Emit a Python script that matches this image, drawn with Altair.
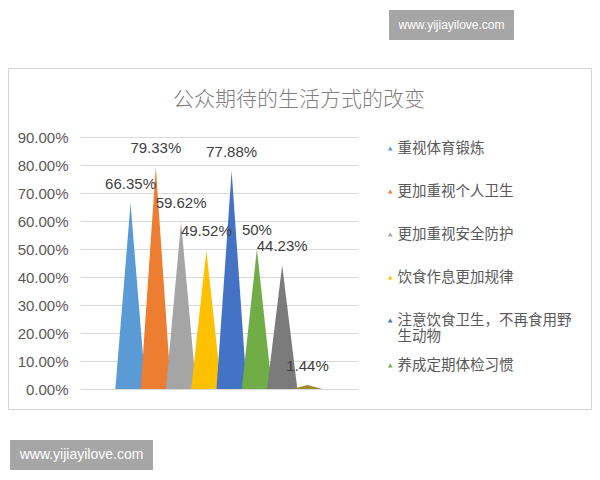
import altair as alt
import pandas as pd

# 公众期待的生活方式的改变 (8 series, legend only shows the first 6)
names = [
    "重视体育锻炼",
    "更加重视个人卫生",
    "更加重视安全防护",
    "饮食作息更加规律",
    "注意饮食卫生，不再食用野生动物",
    "养成定期体检习惯",
    "系列7",
    "系列8",
]
pct = [66.35, 79.33, 59.62, 49.52, 77.88, 50, 44.23, 1.44]
colors = ["#5b9bd5", "#ed7d31", "#a5a5a5", "#ffc000",
          "#4472c4", "#70ad47", "#7b7b7b", "#a08a2e"]
y_ticks = [0, 0.1, 0.2, 0.3, 0.4, 0.5, 0.6, 0.7, 0.8, 0.9]

df = pd.DataFrame({
    "item": names,
    "share": [p / 100 for p in pct],
    "label": [f"{p:g}%" for p in pct],
    "idx": list(range(len(names))),
})

CJK = "Noto Sans CJK SC"
LAT = "Liberation Sans"

x_scale = alt.Scale(domain=[-2, 9], nice=False, zero=False)
y_scale = alt.Scale(domain=[0, 0.9], nice=False)
y_axis = alt.Axis(values=y_ticks, format=".2%", grid=True, gridColor="#d9d9d9",
                  domain=False, ticks=False, labelOverlap=False, labelPadding=12,
                  labelFontSize=15, labelFont=LAT, labelColor="#595959", title=None)

# each value becomes a triangle: base corners at idx -/+ 0.6, apex at idx
cones = alt.Chart(df).transform_calculate(
    k="[-1, 0, 1]"
).transform_flatten(
    ["k"]
).transform_calculate(
    px="datum.idx + datum.k * 0.6",
    py="datum.k == 0 ? datum.share : 0",
).mark_area(opacity=1).encode(
    x=alt.X("px:Q", scale=x_scale, axis=None),
    y=alt.Y("py:Q", scale=y_scale, stack=None, axis=y_axis),
    color=alt.Color("item:N", sort=names,
                    scale=alt.Scale(domain=names, range=colors),
                    legend=alt.Legend(
                        values=names[:6], title=None, orient="none",
                        legendX=303, legendY=-10, symbolType="triangle-up",
                        symbolSize=22, labelFont=CJK, labelFontSize=14.5,
                        labelColor="#595959", labelOffset=0, labelLimit=250,
                        clipHeight=43, rowPadding=0, padding=0,
                        labelExpr="datum.label == '注意饮食卫生，不再食用野生动物' ? "
                                  "['注意饮食卫生，不再食用野', '生动物'] : datum.label")),
    order=alt.Order("idx:Q"),
)

labels = alt.Chart(df).mark_text(
    font=LAT, fontSize=15, color="#404040", dy=-19
).encode(
    x=alt.X("idx:Q", scale=x_scale, axis=None),
    y=alt.Y("share:Q", scale=y_scale, axis=y_axis),
    text="label:N",
)

one = pd.DataFrame({"a": [0]})

frame = alt.Chart(one).mark_rect(fillOpacity=0, stroke="#d4d4d4", strokeWidth=1).encode(
    x=alt.value(-71.5), x2=alt.value(511.5), y=alt.value(-68.5), y2=alt.value(272.5)
)

title = alt.Chart(one).mark_text(
    text="公众期待的生活方式的改变", font=CJK, fontSize=21,
    fontWeight=300, color="#808080"
).encode(x=alt.value(219), y=alt.value(-37))

wm_box_top = alt.Chart(one).mark_rect(fill="#a6a6a6").encode(
    x=alt.value(309), x2=alt.value(434), y=alt.value(-127), y2=alt.value(-97)
)
wm_text_top = alt.Chart(one).mark_text(
    text="www.yijiayilove.com", font=LAT, fontSize=12, color="white"
).encode(x=alt.value(371.5), y=alt.value(-112))

wm_box_bot = alt.Chart(one).mark_rect(fill="#a6a6a6").encode(
    x=alt.value(-70), x2=alt.value(73), y=alt.value(303), y2=alt.value(333)
)
wm_text_bot = alt.Chart(one).mark_text(
    text="www.yijiayilove.com", font=LAT, fontSize=14, color="white"
).encode(x=alt.value(1.5), y=alt.value(318))

chart = alt.layer(
    frame, title, cones, labels, wm_box_top, wm_text_top, wm_box_bot, wm_text_bot
).properties(
    width=278, height=252,
    autosize=alt.AutoSizeParams(type="none"),
    padding={"left": 72, "top": 129, "right": 234, "bottom": 83},
    background="white",
).configure_view(stroke=None)

chart.save("out.html", embed_options={"renderer": "svg", "actions": False})
